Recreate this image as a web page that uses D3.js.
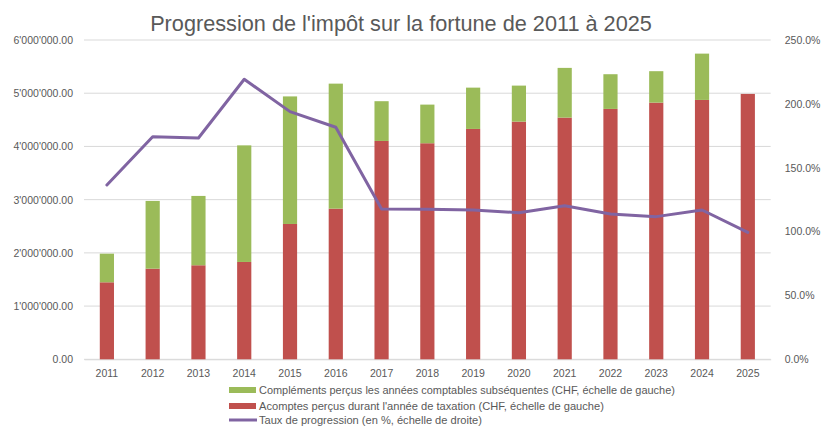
<!DOCTYPE html>
<html><head><meta charset="utf-8">
<script src="https://cdn.jsdelivr.net/npm/d3@7"></script>
<style>body{margin:0;background:#fff}svg{display:block}</style>
</head><body>
<svg id="c" width="821" height="428"></svg>
<script>
const years = ["2011","2012","2013","2014","2015","2016","2017","2018","2019","2020","2021","2022","2023","2024","2025"];
const acomptes = [1447000,1703000,1767000,1829000,2543000,2831000,4103000,4060000,4329000,4466000,4542000,4705000,4823000,4874000,4987000];
const complements = [538000,1273000,1303000,2191000,2397000,2349000,747000,726000,776000,677000,934000,652000,591000,870000,0];
const taux = [136.5,174.2,173.3,219.3,193.9,181.7,117.7,117.5,116.9,114.8,120.3,113.8,111.7,116.9,99.4];
const leftTicks = [0,1000000,2000000,3000000,4000000,5000000,6000000];
const rightTicks = [0,50,100,150,200,250];
const title = "Progression de l'impôt sur la fortune de 2011 à 2025";
const legendLabels = [
  "Compléments perçus les années comptables subséquentes (CHF, échelle de gauche)",
  "Acomptes perçus durant l'année de taxation (CHF, échelle de gauche)",
  "Taux de progression (en %, échelle de droite)"
];

const FONT = "'Liberation Sans', Arial, sans-serif";
const TXT = "#595959";
const svg = d3.select("#c");
const L = 84, R = 770.7, T = 40, B = 359.3;

const x = d3.scaleBand().domain(years).range([L, R]).paddingInner(0.69).paddingOuter(0.345);
const y = d3.scaleLinear().domain([0, 6000000]).range([B, T]);
const y2 = d3.scaleLinear().domain([0, 250]).range([B, T]);

function fit(sel, target) {
  const n = sel.node(); const w = n.getComputedTextLength();
  const fs = parseFloat(sel.attr("font-size"));
  sel.attr("font-size", fs * target / w);
}

// grid
svg.append("g").selectAll("line").data(leftTicks).join("line")
  .attr("x1", L).attr("x2", R).attr("y1", d => y(d)).attr("y2", d => y(d))
  .attr("stroke", "#d9d9d9").attr("stroke-width", 1);

const loc = d3.formatLocale({decimal: ".", thousands: "'", grouping: [3], currency: ["", ""]});
const fmtL = loc.format(",.2f");

// left axis
const ga = svg.append("g").attr("transform", `translate(${L},0)`)
  .call(d3.axisLeft(y).tickValues(leftTicks).tickFormat(fmtL).tickSize(0).tickPadding(11));
ga.select(".domain").remove();
ga.selectAll("text").attr("fill", TXT).attr("font-family", FONT).attr("font-size", 10.5);

// right axis
const gr = svg.append("g").attr("transform", `translate(${R},0)`)
  .call(d3.axisRight(y2).tickValues(rightTicks).tickFormat(d => d3.format(".1f")(d) + "%").tickSize(0).tickPadding(14));
gr.select(".domain").remove();
gr.selectAll("text").attr("fill", TXT).attr("font-family", FONT).attr("font-size", 10.5);

// x axis
const gx = svg.append("g").attr("transform", `translate(0,${B})`)
  .call(d3.axisBottom(x).tickSize(0).tickPadding(10));
gx.select(".domain").attr("stroke", "#d9d9d9");
gx.selectAll("text").attr("fill", TXT).attr("font-family", FONT).attr("font-size", 10.5);

// bars
const stackData = years.map((yr, i) => ({year: yr, a: acomptes[i], c: complements[i]}));
svg.append("g").selectAll("rect").data(stackData).join("rect")
  .attr("x", d => x(d.year)).attr("width", x.bandwidth())
  .attr("y", d => y(d.a)).attr("height", d => y(0) - y(d.a)).attr("fill", "#C0504D");
svg.append("g").selectAll("rect").data(stackData.filter(d => d.c > 0)).join("rect")
  .attr("x", d => x(d.year)).attr("width", x.bandwidth())
  .attr("y", d => y(d.a + d.c)).attr("height", d => y(d.a) - y(d.a + d.c)).attr("fill", "#9BBB59");

// line
const line = d3.line().x((d, i) => x(years[i]) + x.bandwidth() / 2).y(d => y2(d));
svg.append("path").datum(taux).attr("d", line).attr("fill", "none")
  .attr("stroke", "#8064A2").attr("stroke-width", 3).attr("stroke-linejoin", "round").attr("stroke-linecap", "round");

// title
const t = svg.append("text").attr("x", 401).attr("y", 31).attr("text-anchor", "middle")
  .attr("font-family", FONT).attr("font-size", 20).attr("fill", TXT).text(title);
fit(t, 502);

// legend
const lg = svg.append("g");
const rowsY = [390, 406, 420];
const colors = ["#9BBB59", "#C0504D", "#8064A2"];
const widths = [416, 345, 223];
legendLabels.forEach((lab, i) => {
  if (i < 2) lg.append("rect").attr("x", 229).attr("y", rowsY[i] - 3).attr("width", 27).attr("height", 6).attr("fill", colors[i]);
  else lg.append("line").attr("x1", 229).attr("x2", 257).attr("y1", rowsY[i]).attr("y2", rowsY[i]).attr("stroke", colors[i]).attr("stroke-width", 3);
  const tt = lg.append("text").attr("x", 259).attr("y", rowsY[i]).attr("dy", "0.35em")
    .attr("font-family", FONT).attr("font-size", 11).attr("fill", TXT).text(lab);
  fit(tt, widths[i]);
});
</script>
</body></html>
